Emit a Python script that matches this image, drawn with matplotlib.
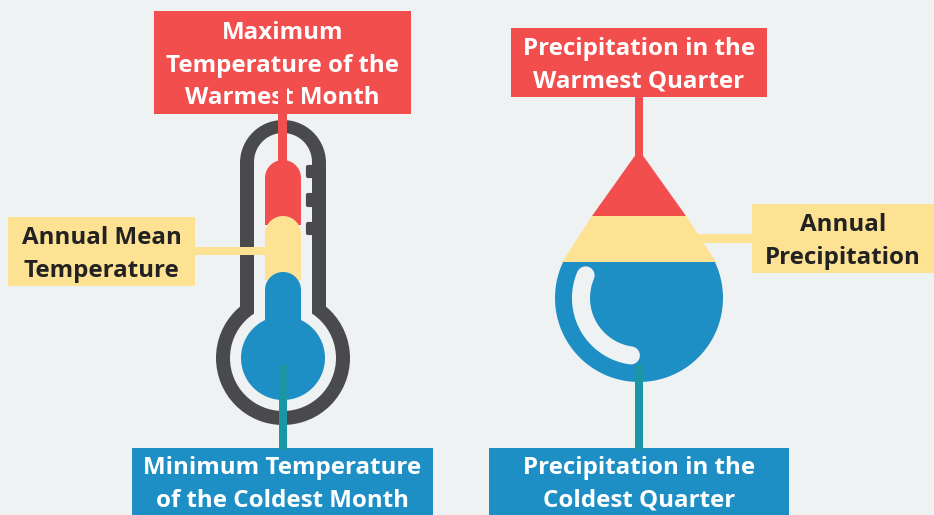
import numpy as np
import matplotlib
matplotlib.use('Agg')
import matplotlib.pyplot as plt
from matplotlib.patches import Circle, Polygon, Rectangle

RED = '#f24e4e'
YELLOW = '#fde293'
BLUE = '#1e8fc4'
TEAL = '#1a96a5'
DARK = '#4a4a4d'
BG = '#eef2f2'

labels = ['Maximum\nTemperature of the\nWarmest Month', 'Annual Mean\nTemperature',
          'Minimum Temperature\nof the Coldest Month', 'Precipitation in the\nWarmest Quarter',
          'Annual\nPrecipitation', 'Precipitation in the\nColdest Quarter']
# left, right, top, bottom in pixels
boxes = [(154, 411, 11, 114), (8, 195, 217, 286), (132, 433, 448, 515),
         (511, 767, 28, 97), (752, 934, 204, 273), (489, 789, 448, 515)]
box_colors = [RED, YELLOW, BLUE, RED, YELLOW, BLUE]
text_colors = ['white', '#222222', 'white', 'white', '#222222', 'white']

fig = plt.figure(figsize=(9.34, 5.15), dpi=100, facecolor=BG)
ax = fig.add_axes([0, 0, 1, 1])
ax.set_xlim(0, 934)
ax.set_ylim(515, 0)
ax.axis('off')


def rect(x0, x1, y0, y1, color, z=2):
    ax.add_patch(Rectangle((x0, y0), x1 - x0, y1 - y0, fc=color, ec='none', zorder=z))


# Shape with a true half circle on top and a flat bottom
def dome(x0, x1, top, bottom, color, z):
    r = (x1 - x0) / 2
    t = np.linspace(np.pi, 2 * np.pi, 60)
    xs = np.concatenate([[x0], (x0 + r) + r * np.cos(t), [x1]])
    ys = np.concatenate([[bottom], (top + r) + r * np.sin(t), [bottom]])
    ax.add_patch(Polygon(np.column_stack([xs, ys]), fc=color, ec='none', zorder=z))


# Thermometer outline
cx, cy = 283, 358
ax.add_patch(Circle((cx, cy), 67, fc=DARK, ec='none', zorder=1))
dome(240, 326, 120, 330, DARK, 1)
ax.add_patch(Circle((cx, cy), 53, fc=BG, ec='none', zorder=1.2))
dome(254, 312, 133, 330, BG, 1.2)

# Tick marks
for y0, y1 in [(165, 178), (193, 207), (222, 235)]:
    ax.add_patch(Rectangle((308, y0 + 2), 6, y1 - y0 - 4, fc=DARK, ec=DARK, lw=3,
                           joinstyle='round', zorder=1.3))

# Mercury columns, one over the other
dome(265, 301, 160, 225, RED, 2)
dome(265, 301, 216, 280, YELLOW, 2.1)
dome(265, 301, 272, 335, BLUE, 2.2)
ax.add_patch(Circle((cx, cy), 42, fc=BLUE, ec='none', zorder=2.2))

# Thermometer leader lines
rect(278, 287, 88, 165, RED, 3)
rect(195, 265, 247, 255, YELLOW, 3)
rect(279, 287, 365, 450, TEAL, 3)

# Drop
dx, dy, dr = 639, 298, 84
apex = 150
y_red, y_yellow = 216, 262
hw_red = 47
hw_yellow = 77
ax.add_patch(Polygon([(dx, apex), (dx + hw_red, y_red), (dx - hw_red, y_red)], fc=RED, ec='none', zorder=2))
ax.add_patch(Polygon([(dx - hw_red, y_red), (dx + hw_red, y_red), (dx + hw_yellow, y_yellow),
                      (dx - hw_yellow, y_yellow)], fc=YELLOW, ec='none', zorder=2))
start = np.arcsin((y_yellow - dy) / dr)
t = np.linspace(start, np.pi - start, 100)
ax.add_patch(Polygon(np.column_stack([dx + dr * np.cos(t), dy + dr * np.sin(t)]), fc=BLUE, ec='none', zorder=2))

# Highlight in the drop
t = np.radians(np.linspace(98, 203, 60))
ax.plot(dx + 58 * np.cos(t), dy + 58 * np.sin(t), color=BG, lw=13, solid_capstyle='round', zorder=3)

# Drop leader lines
rect(635, 643, 97, 156, RED, 1.5)
rect(697, 752, 234, 243, YELLOW, 1.5)
rect(635, 643, 365, 450, TEAL, 3)

# Label boxes
for (x0, x1, y0, y1), c, tc, lab in zip(boxes, box_colors, text_colors, labels):
    rect(x0, x1, y0, y1, c, 2.5)
    ax.text((x0 + x1) / 2, (y0 + y1) / 2 + 3, lab, ha='center', va='center', color=tc,
            fontsize=17.4, fontweight='bold', family='Open Sans', linespacing=1.47, zorder=2.8)

fig.savefig('out.png', dpi=100, facecolor=BG)
